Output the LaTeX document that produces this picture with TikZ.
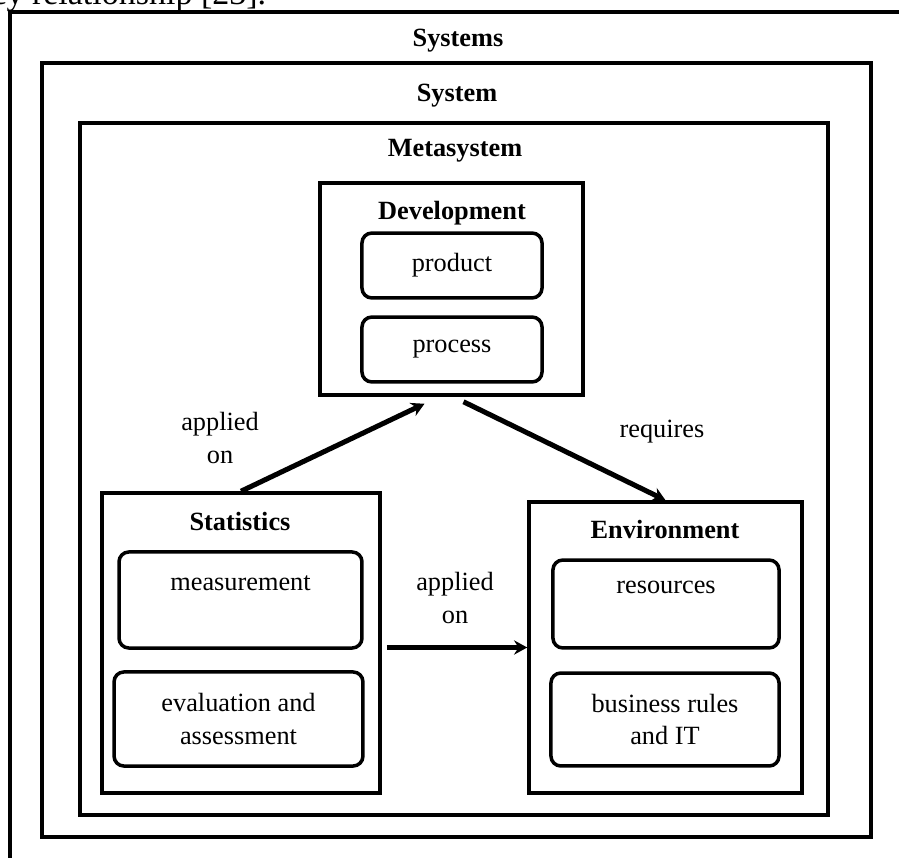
\documentclass[tikz,border=0pt]{standalone}
\usepackage{fontspec}
\setmainfont{Liberation Serif}
\usetikzlibrary{fit,calc,arrows.meta}

\tikzset{
  frame/.style={draw, line width=1.9pt, inner sep=0pt},
  part/.style={draw, line width=1.6pt, inner sep=0pt},
  item/.style={draw, line width=1.6pt, rounded corners=4.5pt, inner sep=0pt, align=center},
  heading/.style={font=\fontsize{12}{15}\selectfont\bfseries, anchor=base},
  note/.style={align=center, inner sep=0pt},
  flow/.style={line width=2.3pt, -{Stealth[length=6pt, width=6.5pt, inset=2pt]}},
}

\begin{document}
\begin{tikzpicture}[x=0.456pt, y=-0.456pt, font=\fontsize{12}{15}\selectfont]
\useasboundingbox (0,0) rectangle (899,858);
\clip (0,0) rectangle (899,858);

% caption line cut at the top of the page
\node[anchor=base west, inner sep=0pt, font=\fontsize{15.5}{18}\selectfont] (caption) at (-9,5) {cy relationship [23].};

% nested frames
\node[frame, fit={(10,12) (930,890)}] (systems) {};
\node[frame, fit={(42,63) (871,837)}] (system) {};
\node[frame, fit={(80,123) (828,815)}] (meta) {};
\node[heading] (systemstitle) at (458,47) {Systems};
\node[heading] (systemtitle) at (457,102) {System};
\node[heading] (metatitle) at (455,157) {Metasystem};

% development
\node[part, fit={(320,183) (583,395)}] (dev) {};
\node[heading] (devtitle) at (452,220) {Development};
\node[item, minimum width=82.1pt, minimum height=29.6pt] (product) at (452,265.5) {product};
\node[item, minimum width=82.1pt, minimum height=29.6pt] (process) at (452,349.5) {process};

% statistics
\node[part, fit={(102,493) (380,793)}] (stat) {};
\node[heading] (stattitle) at (240,530) {Statistics};
\node[item, minimum width=110.8pt, minimum height=43.8pt] (measure) at (240.5,600) {measurement\\ \mbox{}};
\node[item, minimum width=113.5pt, minimum height=42.9pt] (evaluate) at (238.5,719) {evaluation and\\assessment};

% environment
\node[part, fit={(529,502) (802,793)}] (env) {};
\node[heading] (envtitle) at (665,538) {Environment};
\node[item, minimum width=103.1pt, minimum height=40.1pt] (resources) at (666,604) {resources\\ \mbox{}};
\node[item, minimum width=104pt, minimum height=42.4pt] (rules) at (665,719.5) {business rules\\and IT};

% relations
\draw[flow] (stat.north) -- ($(dev.south)+(-27,7)$);
\draw[flow] ($(dev.south)+(12,5)$) -- (env.north);
\draw[flow] ($(stat.east |- env.west)+(5,0)$) -- (env.west);

\node[note] (appliedA) at (220,438) {applied\\on};
\node[note] (requires) at (662,432) {requires};
\node[note] (appliedB) at (455,598) {applied\\on};

\end{tikzpicture}
\end{document}
